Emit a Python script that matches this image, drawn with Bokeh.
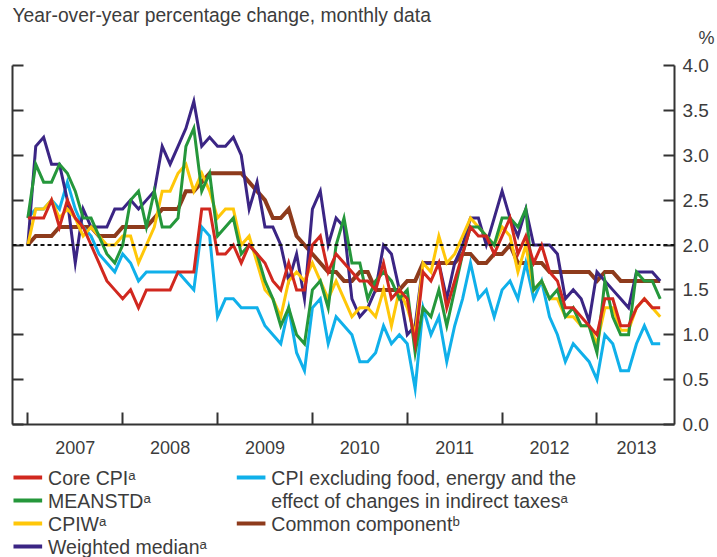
from bokeh.plotting import figure
from bokeh.models import Range1d, LinearAxis, FixedTicker, Span, ColumnDataSource
from bokeh.layouts import column
from bokeh.embed import file_html
from bokeh.resources import INLINE
from bokeh.core.properties import value

# month index: 0 = Jan 2007 ... 80 = Sep 2013
months = list(range(81))

core_cpi = [2.3, 2.3, 2.3, 2.5, 2.2, 2.5, 2.3, 2.2, 2.0, 1.8, 1.6, 1.5,
            1.4, 1.5, 1.3, 1.5, 1.5, 1.5, 1.5, 1.7, 1.7, 1.7, 2.4, 2.4,
            1.9, 1.9, 2.0, 1.8, 2.0, 1.9, 1.8, 1.6, 1.5, 1.8, 1.5, 1.5,
            2.0, 2.1, 1.7, 1.9, 1.8, 1.7, 1.6, 1.6, 1.5, 1.8, 1.4, 1.5,
            1.4, 0.9, 1.7, 1.6, 1.8, 1.3, 1.6, 1.9, 2.2, 2.1, 2.1, 1.9,
            2.1, 2.3, 1.9, 2.1, 1.8, 2.0, 1.7, 1.6, 1.3, 1.3, 1.2, 1.1,
            1.0, 1.4, 1.4, 1.1, 1.1, 1.3, 1.4, 1.3, 1.3]

meanstd = [2.3, 2.9, 2.7, 2.7, 2.9, 2.8, 2.6, 2.3, 2.3, 2.1, 1.9, 1.8,
           2.0, 2.5, 2.6, 2.2, 2.6, 2.2, 2.2, 2.3, 3.1, 3.3, 2.6, 2.8,
           2.1, 2.2, 2.3, 1.9, 2.0, 1.9, 1.6, 1.4, 1.1, 1.3, 1.0, 0.9,
           1.5, 1.6, 1.3, 2.0, 2.3, 1.8, 1.8, 1.4, 1.6, 1.7, 1.6, 1.4,
           1.5, 0.8, 1.3, 1.2, 1.5, 1.1, 1.5, 1.9, 2.2, 2.2, 2.1, 2.0,
           2.3, 2.3, 2.2, 2.4, 1.5, 1.6, 1.4, 1.5, 1.2, 1.3, 1.1, 1.1,
           0.8, 1.6, 1.2, 1.0, 1.0, 1.7, 1.6, 1.6, 1.4]

cpiw = [2.0, 2.4, 2.4, 2.5, 2.3, 2.4, 2.3, 2.1, 2.2, 2.1, 2.0, 2.0,
        2.1, 2.1, 1.8, 2.0, 2.2, 2.6, 2.6, 2.8, 2.9, 2.6, 2.8, 2.6,
        2.3, 2.4, 2.4, 2.0, 2.1, 1.8, 1.5, 1.4, 1.2, 1.6, 1.7, 1.6,
        1.8, 1.6, 1.4, 1.6, 1.4, 1.2, 1.3, 1.3, 1.2, 1.5, 1.1, 1.5,
        1.3, 1.0, 1.8, 1.7, 2.1, 1.8, 1.9, 2.1, 2.3, 2.2, 2.1, 2.0,
        2.2, 2.1, 1.7, 2.0, 1.5, 1.6, 1.4, 1.4, 1.2, 1.2, 1.1, 1.1,
        0.9, 1.3, 1.3, 1.05, 1.05, 1.3, 1.4, 1.3, 1.2]

weighted_median = [2.0, 3.1, 3.2, 2.9, 2.9, 2.5, 1.8, 2.4, 2.2, 2.2, 2.2, 2.4,
                   2.4, 2.5, 2.4, 2.5, 2.6, 3.1, 2.9, 3.1, 3.3, 3.6, 3.1, 3.2,
                   3.1, 3.1, 3.2, 3.0, 2.4, 2.7, 2.2, 2.2, 2.0, 1.6, 1.9, 1.4,
                   2.4, 2.6, 2.0, 2.3, 2.2, 1.4, 1.2, 1.3, 1.5, 2.0, 1.9, 1.5,
                   1.0, 1.1, 1.8, 1.8, 1.8, 1.4, 1.8, 2.0, 2.3, 2.3, 2.0, 2.3,
                   2.6, 2.3, 2.1, 2.4, 2.0, 2.0, 2.0, 1.9, 1.4, 1.5, 1.4, 1.15,
                   1.7, 1.6, 1.5, 1.4, 1.3, 1.7, 1.7, 1.7, 1.6]

cpix = [2.3, 2.4, 2.4, 2.5, 2.4, 2.7, 2.4, 2.2, 2.1, 1.9, 1.8, 1.7,
        1.9, 1.8, 1.6, 1.7, 1.7, 1.7, 1.7, 1.7, 1.6, 1.5, 2.2, 2.1,
        1.2, 1.4, 1.4, 1.3, 1.3, 1.3, 1.1, 1.0, 0.9, 1.3, 0.8, 0.6,
        1.3, 1.4, 0.9, 1.2, 1.1, 1.0, 0.7, 0.7, 0.8, 1.1, 0.9, 1.0,
        0.9, 0.4, 1.3, 1.0, 1.2, 0.7, 1.1, 1.4, 1.8, 1.4, 1.5, 1.2,
        1.5, 1.6, 1.4, 1.8, 1.4, 1.6, 1.2, 1.0, 0.7, 0.9, 0.8, 0.7,
        0.5, 1.0, 0.9, 0.6, 0.6, 0.9, 1.1, 0.9, 0.9]

common = [2.0, 2.1, 2.1, 2.1, 2.2, 2.2, 2.2, 2.2, 2.2, 2.1, 2.1, 2.1,
          2.2, 2.2, 2.2, 2.2, 2.3, 2.4, 2.4, 2.4, 2.6, 2.6, 2.7, 2.8,
          2.8, 2.8, 2.8, 2.8, 2.7, 2.6, 2.5, 2.3, 2.3, 2.4, 2.1, 2.0,
          1.9, 1.8, 1.7, 1.7, 1.6, 1.6, 1.7, 1.7, 1.5, 1.5, 1.5, 1.5,
          1.6, 1.6, 1.8, 1.8, 1.8, 1.8, 1.8, 1.9, 1.9, 1.8, 1.8, 1.9,
          1.9, 2.0, 1.8, 1.8, 1.8, 1.8, 1.7, 1.7, 1.7, 1.7, 1.7, 1.7,
          1.6, 1.7, 1.7, 1.6, 1.6, 1.6, 1.6, 1.6, 1.6]

year_labels = ["2007", "2008", "2009", "2010", "2011", "2012", "2013"]
year_label_pos = [6, 18, 30, 42, 54, 66, 77]
year_starts = [0, 12, 24, 36, 48, 60, 72]
y_ticks = [0.0, 0.5, 1.0, 1.5, 2.0, 2.5, 3.0, 3.5, 4.0]
y_tick_labels = ["0.0", "0.5", "1.0", "1.5", "2.0", "2.5", "3.0", "3.5", "4.0"]
target = 2.0

title_text = "Year-over-year percentage change, monthly data"
unit_text = "%"

RED = "#d1281f"
GREEN = "#25973b"
YELLOW = "#ffc709"
PURPLE = "#3b2584"
BLUE = "#10b0ea"
BROWN = "#8e3b1c"
AXIS = "#333333"
TEXT = "#3c3c3c"
FONT = "Liberation Sans"

W = 717
FL, FR = 12, 682   # frame left / right in page pixels (frames are aligned in the column)

# ---------- header (title + unit) ----------
top = figure(width=W, height=48, output_backend="svg", toolbar_location=None,
             x_range=Range1d(FL, FR), y_range=Range1d(48, 0),
             x_axis_type=None, y_axis_type=None,
             min_border_left=0, min_border_right=0, min_border_top=0, min_border_bottom=0)
top.outline_line_color = None
top.title.visible = False
top.text(x=[FL], y=[15], text=[title_text], text_font=value(FONT),
         text_font_size="19.3px", text_color=TEXT, text_baseline="middle", text_align="left")
ua = LinearAxis(ticker=FixedTicker(ticks=[37]))
ua.major_label_overrides = {37: unit_text}
ua.axis_line_color = None
ua.major_tick_line_color = None
ua.minor_tick_line_color = None
ua.major_label_standoff = 18
ua.major_label_text_font = FONT
ua.major_label_text_font_size = "18px"
ua.major_label_text_color = TEXT
top.add_layout(ua, "right")

# ---------- main chart ----------
p = figure(width=W, height=412, output_backend="svg", toolbar_location=None,
           x_range=Range1d(-1.94, 81.81), y_range=Range1d(0, 4),
           min_border_left=12, min_border_top=17, min_border_bottom=36,
           min_border_right=35)
p.title.visible = False
p.outline_line_color = None
p.xgrid.visible = False
p.ygrid.visible = False

xa = p.xaxis[0]
xa.ticker = FixedTicker(ticks=year_label_pos, minor_ticks=year_starts)
xa.major_label_overrides = {pos: lab for pos, lab in zip(year_label_pos, year_labels)}
xa.major_tick_line_color = None
xa.minor_tick_in = 12
xa.minor_tick_out = 0
xa.minor_tick_line_color = AXIS
xa.minor_tick_line_width = 2
xa.axis_line_color = AXIS
xa.axis_line_width = 2
xa.major_label_standoff = 10
xa.major_label_text_font = FONT
xa.major_label_text_font_size = "18px"
xa.major_label_text_color = TEXT

ya = p.yaxis[0]
ya.ticker = FixedTicker(ticks=y_ticks)
ya.major_label_overrides = {t: "" for t in y_ticks}
ya.major_tick_in = 11
ya.major_tick_out = 0
ya.minor_tick_line_color = None
ya.major_tick_line_color = AXIS
ya.major_tick_line_width = 2
ya.axis_line_color = AXIS
ya.axis_line_width = 2
ya.major_label_standoff = 0

ra = LinearAxis(ticker=FixedTicker(ticks=y_ticks))
ra.major_label_overrides = {t: l for t, l in zip(y_ticks, y_tick_labels)}
ra.major_tick_in = 11
ra.major_tick_out = 0
ra.minor_tick_line_color = None
ra.major_tick_line_color = AXIS
ra.major_tick_line_width = 2
ra.axis_line_color = AXIS
ra.axis_line_width = 2
ra.major_label_standoff = 8
ra.major_label_text_font = FONT
ra.major_label_text_font_size = "19px"
ra.major_label_text_color = TEXT
p.add_layout(ra, "right")

p.add_layout(Span(location=target, dimension="width", line_color="#111111",
                  line_width=2, line_dash="4 3"))

src = ColumnDataSource(dict(m=months, core=core_cpi, mean=meanstd, cpiw=cpiw,
                            wm=weighted_median, cpix=cpix, com=common))
p.line("m", "com", source=src, color=BROWN, line_width=4, line_join="miter")
p.line("m", "cpix", source=src, color=BLUE, line_width=3, line_join="miter")
p.line("m", "wm", source=src, color=PURPLE, line_width=3, line_join="miter")
p.line("m", "cpiw", source=src, color=YELLOW, line_width=3, line_join="miter")
p.line("m", "mean", source=src, color=GREEN, line_width=3, line_join="miter")
p.line("m", "core", source=src, color=RED, line_width=3, line_join="miter")

# ---------- legend ----------
leg = figure(width=W, height=97, output_backend="svg", toolbar_location=None,
             x_range=Range1d(FL, FR), y_range=Range1d(557, 460),
             x_axis_type=None, y_axis_type=None,
             min_border_left=0, min_border_right=0, min_border_top=0, min_border_bottom=0)
leg.outline_line_color = None
leg.title.visible = False

leg_labels = ["Core CPI\u1d43", "MEANSTD\u1d43", "CPIW\u1d43", "Weighted median\u1d43",
              "CPI excluding food, energy and the", "Common component\u1d47"]
leg_colors = [RED, GREEN, YELLOW, PURPLE, BLUE, BROWN]
col_x = [13, 13, 13, 13, 239, 239]
row_y = [477, 500, 523, 546, 477, 523]
leg.segment(x0=col_x, y0=row_y, x1=[c + 29 for c in col_x], y1=row_y,
            color=leg_colors, line_width=4)
leg.text(x=[c + 35 for c in col_x], y=row_y, text=leg_labels,
         text_font=value(FONT), text_font_size="19.5px", text_color=TEXT,
         text_baseline="middle", text_align="left")
leg.text(x=[274], y=[500], text=["effect of changes in indirect taxes\u1d43"],
         text_font=value(FONT), text_font_size="19.5px", text_color=TEXT,
         text_baseline="middle", text_align="left")

layout = column(top, p, leg)
open("out.html", "w").write(file_html(layout, INLINE))
